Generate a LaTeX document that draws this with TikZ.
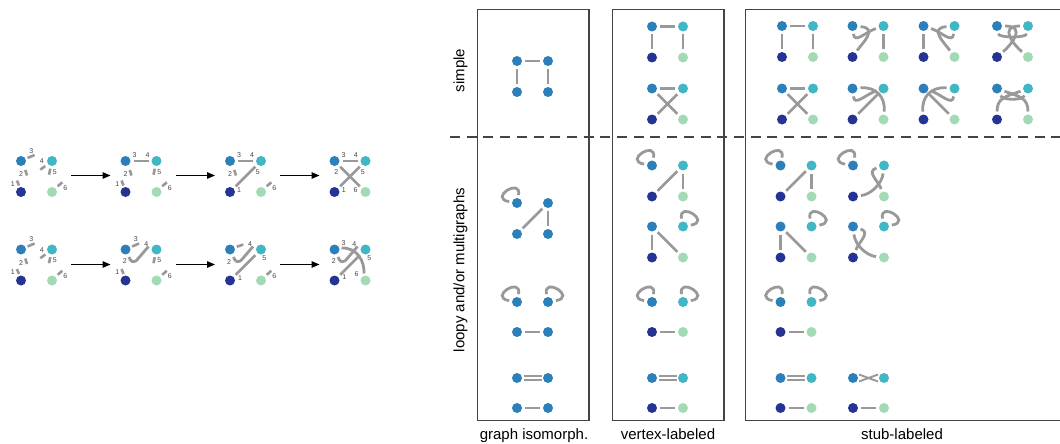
\documentclass[tikz,border=0pt]{standalone}
\usepackage{fontspec}
\setmainfont{Liberation Sans}
\usetikzlibrary{arrows.meta}
\definecolor{cA}{HTML}{2C7FB8}
\definecolor{cB}{HTML}{41B6C4}
\definecolor{cC}{HTML}{253494}
\definecolor{cD}{HTML}{A1DAB4}
\definecolor{eg}{HTML}{999999}
\definecolor{bx}{HTML}{444444}
\definecolor{labgray}{HTML}{444444}
\tikzset{
 vx/.style={circle,inner sep=0pt,minimum size=10pt,outer sep=3pt,draw=none},
 ed/.style={draw=eg,line width=2.8pt},
 ed2/.style={draw=eg,line width=1.9pt},
 stb/.style={draw=eg,line width=2.6pt},
 lab/.style={font=\fontsize{7}{8}\selectfont,text=labgray,inner sep=0pt},
 boxline/.style={draw=bx,line width=1.3pt},
 arr/.style={draw=black,line width=1.3pt,-{Triangle[length=8pt,width=6.5pt]}},
 hd/.style={font=\fontsize{15}{18}\selectfont,inner sep=0pt},
}
\newcommand\fourv[7]{%
 \node[vx,fill=#4] (#1a) at (#2,#3) {};
 \node[vx,fill=#5] (#1b) at (#2+31,#3) {};
 \node[vx,fill=#6] (#1c) at (#2,#3+31) {};
 \node[vx,fill=#7] (#1d) at (#2+31,#3+31) {};}
\newcommand\twov[5]{%
 \node[vx,fill=#4] (#1a) at (#2,#3) {};
 \node[vx,fill=#5] (#1b) at (#2+31,#3) {};}
\newcommand\eS[2]{\draw[ed] (#1) -- (#2);}
\newcommand\eC[4]{\draw[ed] (#1) .. controls +#3 and +#4 .. (#2);}
\newcommand\lpL[1]{\draw[ed] (#1) .. controls +(-29,-5) and +(5,-26) .. (#1);}
\newcommand\lpR[1]{\draw[ed] (#1) .. controls +(29,-5) and +(-5,-26) .. (#1);}
\newcommand\eD[2]{\draw[ed2] ([shift={(6.5,-1.9)}]#1.center) -- ([shift={(-6.5,-1.9)}]#2.center);
 \draw[ed2] ([shift={(6.5,1.9)}]#1.center) -- ([shift={(-6.5,1.9)}]#2.center);}
\newcommand\eX[2]{\draw[ed2] ([shift={(6,-3.5)}]#1.center) -- ([shift={(-6,3.5)}]#2.center);
 \draw[ed2] ([shift={(6,3.5)}]#1.center) -- ([shift={(-6,-3.5)}]#2.center);}
\newcommand\lbl[4]{\node[lab] (#1) at ([shift={#3}]#2.center) {#4};}
\newcommand\stOne[1]{\draw[stb] ([shift={(-4,-11.5)}]#1c.center) -- ([shift={(-2,-6.5)}]#1c.center); \lbl{#1lone}{#1c}{(-8.3,-8.3)}{1}}
\newcommand\stTwo[1]{\draw[stb] ([shift={(4.3,9)}]#1a.center) -- ([shift={(6,14.5)}]#1a.center); \lbl{#1ltwo}{#1a}{(0,13.3)}{2}}
\newcommand\stThree[1]{\draw[stb] ([shift={(6.6,-3)}]#1a.center) -- ([shift={(13.6,-6)}]#1a.center); \lbl{#1lthree}{#1a}{(10.3,-10)}{3}}
\newcommand\stFour[1]{\draw[stb] ([shift={(-11.7,8.7)}]#1b.center) -- ([shift={(-6.7,5)}]#1b.center); \lbl{#1lfour}{#1b}{(-10.3,0.3)}{4}}
\newcommand\stFive[1]{\draw[stb] ([shift={(-1.7,7.7)}]#1b.center) -- ([shift={(-3,13.7)}]#1b.center); \lbl{#1lfive}{#1b}{(2.7,11)}{5}}
\newcommand\stSix[1]{\draw[stb] ([shift={(5.7,-5.7)}]#1d.center) -- ([shift={(10.3,-9.7)}]#1d.center); \lbl{#1lsix}{#1d}{(13.3,-4)}{6}}
\newcommand\vcurve[1]{\draw[ed] ([shift={(3.5,7.5)}]#1a.center) .. controls ([shift={(5,12.5)}]#1a.center) and ([shift={(8,13)}]#1a.center) .. ([shift={(11,11)}]#1a.center) -- ([shift={(-8,-3)}]#1b.center);}
\begin{document}
\begin{tikzpicture}[x=1pt,y=-1pt]
\useasboundingbox (0,0) rectangle (1060,444);

% ---------- left panel ----------
% row 1
\fourv{La}{21}{161}{cA}{cB}{cC}{cD}
\stOne{La}\stTwo{La}\stThree{La}\stFour{La}\stFive{La}\stSix{La}
\fourv{Lb}{125.5}{161}{cA}{cB}{cC}{cD}
\eS{Lba}{Lbb}
\lbl{Lbl3}{Lba}{(9,-5.7)}{3}\lbl{Lbl4}{Lbb}{(-9,-5.7)}{4}
\stOne{Lb}\stTwo{Lb}\stFive{Lb}\stSix{Lb}
\fourv{Lc}{230}{161}{cA}{cB}{cC}{cD}
\eS{Lca}{Lcb}\eS{Lcc}{Lcb}
\lbl{Lcl3}{Lca}{(9,-5.7)}{3}\lbl{Lcl4}{Lcb}{(-9,-5.7)}{4}
\lbl{Lcl1}{Lcc}{(9,-1.7)}{1}\lbl{Lcl5}{Lcb}{(-3.3,11)}{5}
\stTwo{Lc}\stSix{Lc}
\fourv{Ld}{334.5}{161}{cA}{cB}{cC}{cD}
\eS{Lda}{Ldb}\eS{Ldc}{Ldb}\eS{Lda}{Ldd}
\lbl{Ldl3}{Lda}{(9,-5.7)}{3}\lbl{Ldl4}{Ldb}{(-9.7,-5.7)}{4}
\lbl{Ldl2}{Lda}{(1.7,11)}{2}\lbl{Ldl5}{Ldb}{(-2.7,11)}{5}
\lbl{Ldl1}{Ldc}{(9.3,-1.7)}{1}\lbl{Ldl6}{Ldd}{(-10,-1.7)}{6}
% row 2
\fourv{Le}{21}{249.5}{cA}{cB}{cC}{cD}
\stOne{Le}\stTwo{Le}\stThree{Le}\stFour{Le}\stFive{Le}\stSix{Le}
\fourv{Lf}{125.5}{249.5}{cA}{cB}{cC}{cD}
\stThree{Lf}\stOne{Lf}\stFive{Lf}\stSix{Lf}
\vcurve{Lf}
\lbl{Lfl4}{Lfb}{(-10.3,-5)}{4}\lbl{Lfl2}{Lfa}{(-0.7,11.3)}{2}
\fourv{Lg}{230}{249.5}{cA}{cB}{cC}{cD}
\draw[stb] ([shift={(6.7,-2.7)}]Lga.center) -- ([shift={(13.3,-5)}]Lga.center);
\vcurve{Lg}
\eS{Lgc}{Lgb}
\lbl{Lgl4}{Lgb}{(-11,-5)}{4}\lbl{Lgl2}{Lga}{(-1,12.3)}{2}
\lbl{Lgl1}{Lgc}{(10,-2.7)}{1}\lbl{Lgl5}{Lgb}{(3.3,9)}{5}
\stSix{Lg}
\fourv{Lh}{334.5}{249.5}{cA}{cB}{cC}{cD}
\draw[ed] ([shift={(7,-1.5)}]Lha.center) .. controls ([shift={(24,-2)}]Lha.center) and ([shift={(-1,-18)}]Lhd.center) .. ([shift={(-1.5,-7)}]Lhd.center);
\vcurve{Lh}
\eS{Lhc}{Lhb}
\lbl{Lhl3}{Lha}{(9,-6)}{3}\lbl{Lhl4}{Lhb}{(-11.3,-5)}{4}
\lbl{Lhl5}{Lhb}{(3.7,9)}{5}\lbl{Lhl2}{Lha}{(-0.7,11.3)}{2}
\lbl{Lhl1}{Lhc}{(9.7,-3.3)}{1}\lbl{Lhl6}{Lhd}{(-9,-6)}{6}
% arrows
\coordinate (Fa) at (36.5,175.5); \coordinate (Fb) at (141,175.5);
\coordinate (Fc) at (245.5,175.5); \coordinate (Fd) at (350,175.5);
\coordinate (Fe) at (36.5,264.5); \coordinate (Ff) at (141,264.5);
\coordinate (Fg) at (245.5,264.5); \coordinate (Fh) at (350,264.5);
\draw[arr] ([xshift=34.5pt]Fa) -- ([xshift=-30.5pt]Fb);
\draw[arr] ([xshift=34.5pt]Fb) -- ([xshift=-30.5pt]Fc);
\draw[arr] ([xshift=34.5pt]Fc) -- ([xshift=-30.5pt]Fd);
\draw[arr] ([xshift=34.5pt]Fe) -- ([xshift=-30.5pt]Ff);
\draw[arr] ([xshift=34.5pt]Ff) -- ([xshift=-30.5pt]Fg);
\draw[arr] ([xshift=34.5pt]Fg) -- ([xshift=-30.5pt]Fh);

% ---------- boxes ----------
\draw[boxline] (477.3,9.5) rectangle (589,420.5);
\draw[boxline] (612.3,9.5) rectangle (724,420.5);
\draw[boxline] (1062,9.5) -- (745.7,9.5) -- (745.7,420.5) -- (1062,420.5);
\draw[draw=bx,line width=1.3pt,dash pattern=on 10pt off 6.7pt] (450,137) -- (1062,137);

\node[hd,rotate=90] (tsimple) at (460.5,70.5) {simple};
\node[hd,rotate=90] (tloopy) at (460.5,270) {loopy and/or multigraphs};
\node[hd,anchor=base] (tiso) at (534,439.5) {graph isomorph.};
\node[hd,anchor=base] (tvert) at (668,439.5) {vertex-labeled};
\node[hd,anchor=base] (tstub) at (902,439.5) {stub-labeled};

% box 1: graph isomorphism
\fourv{ia}{517}{61}{cA}{cA}{cA}{cA}
\eS{iaa}{iab}\eS{iaa}{iac}\eS{iab}{iad}
\fourv{ib}{517}{203}{cA}{cA}{cA}{cA}
\lpL{iba}\eS{ibb}{ibc}\eS{ibb}{ibd}
\twov{ic}{517}{302}{cA}{cA}\lpL{ica}\lpR{icb}
\twov{id}{517}{332}{cA}{cA}\eS{ida}{idb}
\twov{ie}{517}{378}{cA}{cA}\eD{iea}{ieb}
\twov{ig}{517}{408}{cA}{cA}\eS{iga}{igb}

% box 2: vertex-labeled
\fourv{va}{652}{26.5}{cA}{cB}{cC}{cD}
\eS{vaa}{vab}\eS{vaa}{vac}\eS{vab}{vad}
\fourv{vb}{652}{88.5}{cA}{cB}{cC}{cD}
\eS{vba}{vbb}\eS{vba}{vbd}\eS{vbb}{vbc}
\fourv{vc}{652}{165.5}{cA}{cB}{cC}{cD}
\lpL{vca}\eS{vcb}{vcc}\eS{vcb}{vcd}
\fourv{vd}{652}{226.5}{cA}{cB}{cC}{cD}
\lpR{vdb}\eS{vda}{vdc}\eS{vda}{vdd}
\twov{ve}{652}{302}{cA}{cB}\lpL{vea}\lpR{veb}
\twov{vf}{652}{332}{cC}{cD}\eS{vfa}{vfb}
\twov{vg}{652}{378}{cA}{cB}\eD{vga}{vgb}
\twov{vh}{652}{408}{cC}{cD}\eS{vha}{vhb}

% box 3: stub-labeled, simple
\fourv{sa}{782}{26}{cA}{cB}{cC}{cD}
\eS{saa}{sab}\eS{saa}{sac}\eS{sab}{sad}
\fourv{sb}{852.5}{26}{cA}{cB}{cC}{cD}
\eS{sbb}{sbd}\eC{sba}{sbc}{(26,2)}{(10,-14)}\eC{sba}{sbb}{(2,18)}{(-18,6)}
\fourv{sc}{923.5}{26}{cA}{cB}{cC}{cD}
\eS{sca}{scc}\eC{scb}{scd}{(-26,2)}{(-10,-14)}\eC{sca}{scb}{(18,6)}{(-2,18)}
\fourv{sd}{997}{26}{cA}{cB}{cC}{cD}
\eC{sda}{sdc}{(30,0)}{(14,-12)}\eC{sdb}{sdd}{(-30,0)}{(-14,-12)}\eC{sda}{sdb}{(2,12)}{(-2,12)}
\fourv{sf}{782}{88.5}{cA}{cB}{cC}{cD}
\eS{sfa}{sfb}\eS{sfa}{sfd}\eS{sfb}{sfc}
\fourv{sg}{852.5}{88.5}{cA}{cB}{cC}{cD}
\eC{sga}{sgd}{(24,-2)}{(2,-22)}\eC{sga}{sgb}{(2,18)}{(-18,6)}\eS{sgc}{sgb}
\fourv{sh}{923.5}{88.5}{cA}{cB}{cC}{cD}
\eC{shb}{shc}{(-24,-2)}{(-2,-22)}\eC{sha}{shb}{(18,6)}{(-2,18)}\eS{sha}{shd}
\fourv{si}{997}{88.5}{cA}{cB}{cC}{cD}
\eC{sia}{sid}{(22,8)}{(0,-22)}\eC{sib}{sic}{(-22,8)}{(0,-22)}\eC{sia}{sib}{(6,12)}{(-6,12)}

% box 3: stub-labeled, loopy
\fourv{la}{780.5}{165.5}{cA}{cB}{cC}{cD}
\lpL{laa}\eS{lab}{lac}\eS{lab}{lad}
\fourv{lb}{853}{165.5}{cA}{cB}{cC}{cD}
\lpL{lba}\eC{lbb}{lbd}{(-18,6)}{(-6,-16)}\eC{lbb}{lbc}{(-2,18)}{(18,-2)}
\fourv{lc}{780.5}{226.5}{cA}{cB}{cC}{cD}
\lpR{lcb}\eS{lca}{lcc}\eS{lca}{lcd}
\fourv{ld}{853}{226.5}{cA}{cB}{cC}{cD}
\lpR{ldb}\eC{lda}{ldd}{(2,18)}{(-18,-2)}\eC{lda}{ldc}{(18,6)}{(6,-16)}
\twov{le}{780.5}{302}{cA}{cB}\lpL{lea}\lpR{leb}
\twov{lf}{780.5}{332}{cC}{cD}\eS{lfa}{lfb}
\twov{lg}{780.5}{378}{cA}{cB}\eD{lga}{lgb}
\twov{lh}{780.5}{408}{cC}{cD}\eS{lha}{lhb}
\twov{li}{853}{378}{cA}{cB}\eX{lia}{lib}
\twov{lj}{853}{408}{cC}{cD}\eS{lja}{ljb}
\end{tikzpicture}
\end{document}
